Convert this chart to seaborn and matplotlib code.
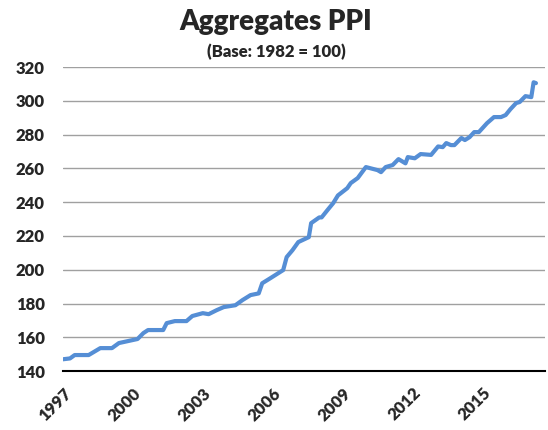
import matplotlib
matplotlib.use("Agg")
import matplotlib.pyplot as plt
import seaborn as sns
import pandas as pd

# values (decimal year, index value)
years = [1997.0, 1997.3, 1997.5, 1998.1, 1998.6, 1999.1, 1999.4, 1999.8,
         2000.2, 2000.45, 2000.65, 2001.3, 2001.45, 2001.8, 2002.3, 2002.55,
         2003.0, 2003.25, 2003.6, 2003.9, 2004.4, 2004.7, 2005.05, 2005.4,
         2005.55, 2005.9, 2006.45, 2006.6, 2006.85, 2007.1, 2007.55, 2007.65,
         2008.0, 2008.1, 2008.35, 2008.6, 2008.8, 2009.2, 2009.35, 2009.65,
         2010.0, 2010.5, 2010.65, 2010.85, 2011.15, 2011.4, 2011.7, 2011.8,
         2012.1, 2012.35, 2012.8, 2013.1, 2013.3, 2013.45, 2013.65, 2013.8,
         2014.1, 2014.25, 2014.45, 2014.65, 2014.85, 2015.2, 2015.5, 2015.8,
         2016.0, 2016.2, 2016.45, 2016.6, 2016.85, 2017.1, 2017.2, 2017.3]
ppi = [147.0, 147.5, 149.5, 149.5, 153.6, 153.6, 156.6, 157.8,
       159.0, 162.5, 164.3, 164.3, 168.4, 169.6, 169.6, 172.6,
       174.3, 173.7, 176.1, 177.9, 179.0, 182.0, 185.0, 186.0,
       192.0, 195.0, 199.8, 207.5, 211.6, 216.4, 219.3, 227.6,
       231.0, 231.0, 235.3, 239.5, 244.0, 248.3, 251.3, 254.3,
       260.8, 259.0, 257.8, 260.8, 262.0, 265.5, 263.0, 266.7,
       266.0, 268.5, 268.0, 273.0, 272.6, 275.0, 273.8, 273.8,
       278.0, 276.8, 278.5, 281.5, 281.5, 286.8, 290.4, 290.4,
       291.6, 295.0, 298.7, 299.3, 302.8, 302.2, 311.0, 310.5]
year_ticks = [1997, 2000, 2003, 2006, 2009, 2012, 2015]
y_ticks = list(range(140, 321, 20))

df = pd.DataFrame({"year": years, "ppi": ppi})

sns.set_style("white")
plt.rcParams["font.family"] = ["Lato", "DejaVu Sans"]

fig = plt.figure(figsize=(5.48, 4.30), dpi=100)
ax = fig.add_axes([0.115, 0.137, 0.88, 0.707])

sns.lineplot(data=df, x="year", y="ppi", ax=ax, color="#558ED5", linewidth=3.0)

ax.set_xlim(1997, 2017.7)
ax.set_ylim(140, 320)
ax.set_yticks(y_ticks)
ax.set_xticks(year_ticks)
ax.set_xticklabels([str(y) for y in year_ticks], rotation=45, ha="right",
                   rotation_mode="anchor", fontweight="heavy", fontsize=12)
ax.set_yticklabels([str(v) for v in y_ticks], fontweight="heavy", fontsize=12)
ax.yaxis.grid(True, color="#a0a0a0", linewidth=1.0)
ax.set_axisbelow(True)
ax.set_xlabel("")
ax.set_ylabel("")

for s in ["left", "right", "top"]:
    ax.spines[s].set_visible(False)
ax.spines["bottom"].set_color("black")
ax.spines["bottom"].set_linewidth(1.5)
ax.tick_params(axis="x", direction="out", length=4, width=1.2, color="black", pad=6)
ax.tick_params(axis="y", length=0, pad=13)

fig.text(0.504, 0.948, "Aggregates PPI", ha="center", va="center",
         fontsize=20, fontweight="heavy")
fig.text(0.504, 0.878, "(Base: 1982 = 100)", ha="center", va="center",
         fontsize=12, fontweight="heavy")

fig.savefig("out.png", dpi=100)
